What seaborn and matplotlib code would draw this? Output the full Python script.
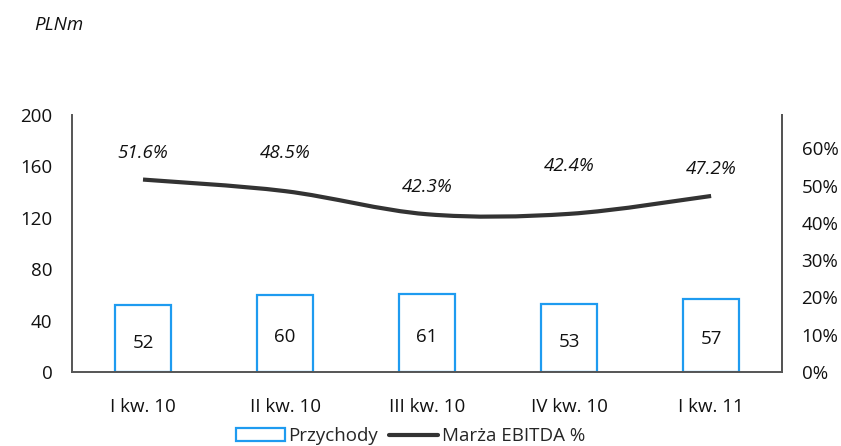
import matplotlib
matplotlib.use("Agg")
import matplotlib.pyplot as plt
from matplotlib.path import Path
from matplotlib.patches import PathPatch, Patch
from matplotlib.lines import Line2D
from matplotlib.ticker import FuncFormatter
import numpy as np
import pandas as pd
import seaborn as sns

# Quarterly revenue (PLNm) and EBITDA margin
quarters = ["I kw. 10", "II kw. 10", "III kw. 10", "IV kw. 10", "I kw. 11"]
revenue = [52, 60, 61, 53, 57]
ebitda_margin = [0.516, 0.485, 0.423, 0.424, 0.472]
margin_labels = ["51.6%", "48.5%", "42.3%", "42.4%", "47.2%"]
revenue_ticks = [0, 40, 80, 120, 160, 200]
margin_ticks = [0.0, 0.1, 0.2, 0.3, 0.4, 0.5, 0.6]

BLUE = "#1E9BF0"
LINE = "#333333"
SPINE = "#555555"
TEXT = "#111111"
FS = 13.5

sns.set_theme(style="white")
plt.rcParams["font.family"] = ["Open Sans", "DejaVu Sans"]

fig = plt.figure(figsize=(8.41, 4.46), dpi=100)
ax = fig.add_axes([0.0856, 0.166, 0.8444, 0.576])

df = pd.DataFrame({"quarter": quarters, "revenue": revenue})
sns.barplot(data=df, x="quarter", y="revenue", ax=ax, fill=False,
            color=BLUE, width=0.39, linewidth=1.6, edgecolor=BLUE)
for bar in ax.patches:
    bar.set_edgecolor(BLUE)
    bar.set_facecolor("white")

ax.set_xlim(-0.5, len(quarters) - 0.5)
ax.set_ylim(0, 200)
ax.set_yticks(revenue_ticks)
ax.set_xlabel("")
ax.set_ylabel("")
ax.tick_params(axis="y", length=0, pad=14, labelsize=FS, colors=TEXT)
ax.tick_params(axis="x", length=0, pad=19, labelsize=FS, colors=TEXT)
ax.spines["top"].set_visible(False)
for side in ["left", "bottom", "right"]:
    ax.spines[side].set_color(SPINE)
    ax.spines[side].set_linewidth(1.4)

# Values inside bars
for i, v in enumerate(revenue):
    ax.annotate(f"{v}", (i, v / 2), xytext=(0, -4), textcoords="offset pixels",
                ha="center", va="center", fontsize=FS, color=TEXT)

# Secondary axis for margin
ax2 = ax.twinx()
ax2.set_ylim(0, 0.689)
ax2.set_yticks(margin_ticks)
ax2.yaxis.set_major_formatter(FuncFormatter(lambda v, _: f"{v * 100:.0f}%"))
ax2.tick_params(axis="y", length=0, pad=14, labelsize=FS, colors=TEXT)
ax2.grid(False)
for side in ["top", "left", "bottom"]:
    ax2.spines[side].set_visible(False)
ax2.spines["right"].set_color(SPINE)
ax2.spines["right"].set_linewidth(1.4)

# Smoothed margin line (Catmull-Rom style Bezier through the points)
xs = np.arange(len(ebitda_margin), dtype=float)
ys = np.array(ebitda_margin)
pts = np.column_stack([xs, ys])
ext = np.vstack([pts[0], pts, pts[-1]])
verts = [tuple(pts[0])]
codes = [Path.MOVETO]
for i in range(len(pts) - 1):
    p0, p1, p2, p3 = ext[i], ext[i + 1], ext[i + 2], ext[i + 3]
    c1 = p1 + (p2 - p0) / 6.0
    c2 = p2 - (p3 - p1) / 6.0
    verts += [tuple(c1), tuple(c2), tuple(p2)]
    codes += [Path.CURVE4, Path.CURVE4, Path.CURVE4]
ax2.add_patch(PathPatch(Path(verts, codes), facecolor="none",
                        edgecolor=LINE, linewidth=3.0, capstyle="butt"))

label_offsets = [27, 38, 27, 48, 27]
for i, (m, txt) in enumerate(zip(ebitda_margin, margin_labels)):
    ax2.annotate(txt, (i, m), xytext=(0, label_offsets[i]),
                 textcoords="offset pixels", ha="center", va="center",
                 fontsize=FS, fontstyle="italic", color=TEXT)

fig.text(0.041, 0.944, "PLNm", fontsize=FS, fontstyle="italic",
         ha="left", va="center", color=TEXT)

handles = [Patch(facecolor="white", edgecolor=BLUE, linewidth=1.6),
           Line2D([0], [0], color=LINE, linewidth=3.0)]
fig.legend(handles, ["Przychody", "Marża EBITDA %"], loc="center",
           bbox_to_anchor=(0.488, 0.022), ncol=2, frameon=False,
           fontsize=FS, handlelength=2.6, handletextpad=0.2,
           columnspacing=0.6)

fig.savefig("out.png", dpi=100)
